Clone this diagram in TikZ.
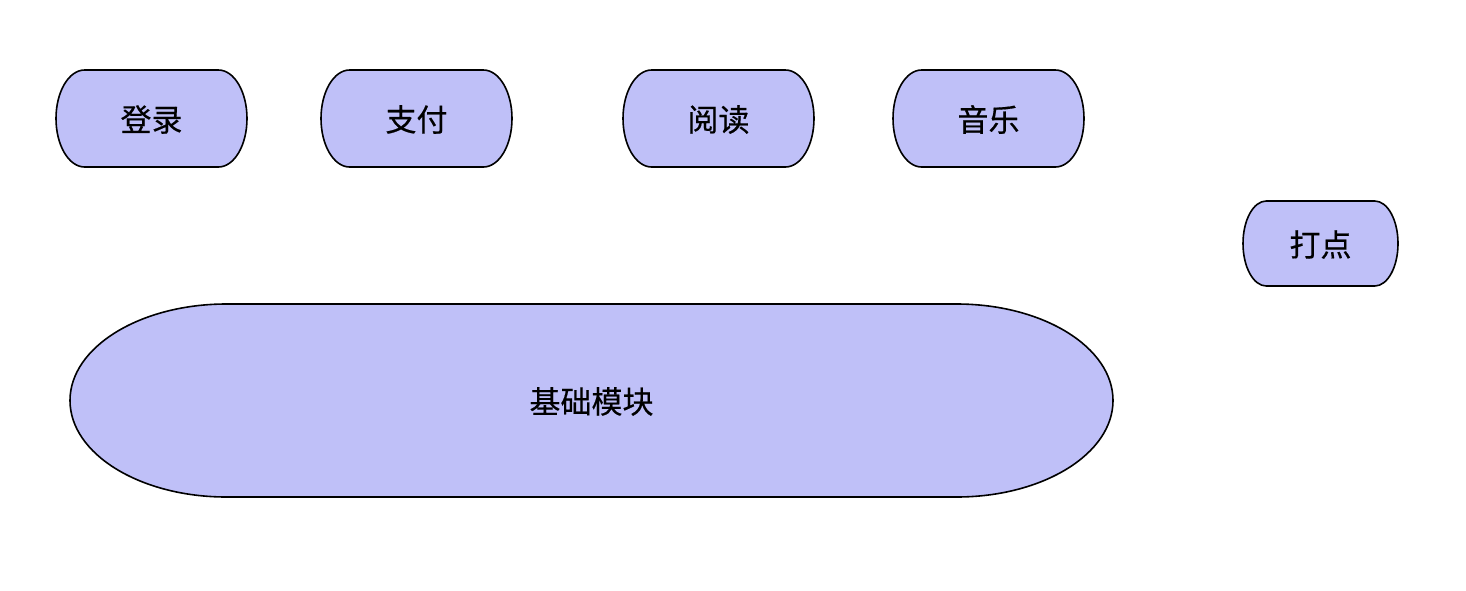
\documentclass[tikz,border=0pt]{standalone}
\usepackage{fontspec}
\setmainfont{Noto Sans CJK SC}[FakeBold=0.4]
\definecolor{boxfill}{RGB}{191,192,248}
\tikzset{
  termshape/.style={draw=black, fill=boxfill, line width=1.6pt},
  termlabel/.style={font=\fontsize{31}{37}\selectfont, inner sep=0pt, text=black}
}
% #1 name, #2 x1, #3 y1, #4 x2, #5 y2, #6 text  (pixel coords, y downward)
\newcommand{\termbox}[6]{%
  \pgfmathsetmacro{\rxv}{0.15*(#4-#2)}%
  \pgfmathsetmacro{\ryv}{(#5-#3)/2}%
  \pgfmathsetmacro{\cxv}{(#2+#4)/2}%
  \pgfmathsetmacro{\cyv}{-(#3+#5)/2-1}%
  \path[termshape] (#2+\rxv,-#3) -- (#4-\rxv,-#3)
    arc[start angle=90, end angle=-90, x radius=\rxv, y radius=\ryv]
    -- (#2+\rxv,-#5)
    arc[start angle=-90, end angle=-270, x radius=\rxv, y radius=\ryv]
    -- cycle;
  \node[termlabel] (#1) at (\cxv,\cyv) {#6};%
}
\begin{document}
\begin{tikzpicture}[x=1pt,y=1pt]
\useasboundingbox (0,0) rectangle (1466,-590);
\termbox{login}{56}{70}{247}{167}{登录}
\termbox{pay}{321}{70}{512}{167}{支付}
\termbox{read}{623}{70}{814}{167}{阅读}
\termbox{music}{893}{70}{1084}{167}{音乐}
\termbox{track}{1243}{201}{1398}{286}{打点}
\termbox{base}{70}{304}{1113}{497}{基础模块}
\end{tikzpicture}
\end{document}
